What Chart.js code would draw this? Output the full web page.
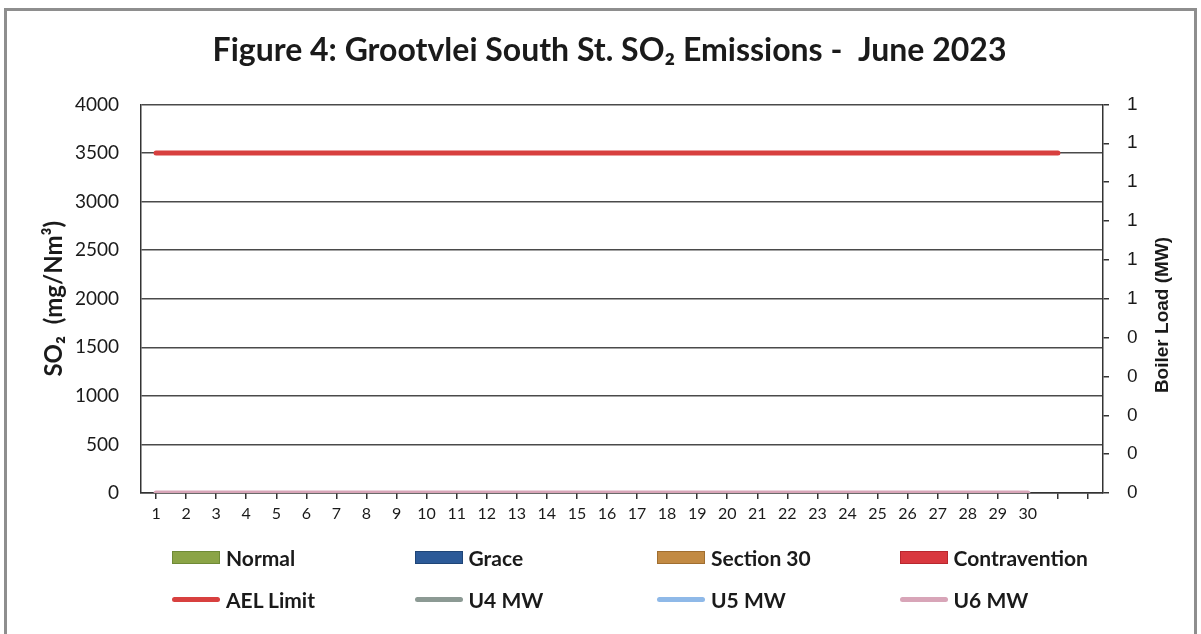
<!DOCTYPE html>
<html>
<head>
<meta charset="utf-8">
<script src="https://cdn.jsdelivr.net/npm/chart.js@4.4.1/dist/chart.umd.min.js"></script>
<style>
  html, body { margin: 0; padding: 0; background: #fff; }
  body { width: 1201px; height: 634px; position: relative; overflow: hidden; }
  .frame { position: absolute; left: 4px; top: 8px; width: 1193px; height: 630px; border: 3px solid #8e8e8e; box-sizing: border-box; }
  .wrap { position: absolute; left: 0; top: 0; width: 1201px; height: 634px; }
  .legend { position: absolute; left: 172px; top: 544px; width: 980px; font-family: Lato, "Open Sans", sans-serif; font-weight: bold; font-size: 21px; color: #1a1a1a; }
  .legend .item { position: absolute; display: flex; align-items: center; height: 26px; white-space: nowrap; }
  .legend .sw { display: inline-block; width: 48px; margin-right: 6px; box-sizing: border-box; }
</style>
</head>
<body>
<div class="frame"></div>
<div class="wrap"><canvas id="so2" width="1201" height="634"></canvas></div>
<div class="legend" id="legend"></div>
<script>
// categories: days of June (two empty slots at the end, as in the original sheet)
var days = ['1','2','3','4','5','6','7','8','9','10','11','12','13','14','15','16','17','18','19','20','21','22','23','24','25','26','27','28','29','30','',''];

// SO2 emissions per day by status (no readings shown this month)
var normal = [];
var grace = [];
var section30 = [];
var contravention = [];

// AEL limit (mg/Nm3)
var aelLimit = [3500,3500,3500,3500,3500,3500,3500,3500,3500,3500,3500,3500,3500,3500,3500,3500,3500,3500,3500,3500,3500,3500,3500,3500,3500,3500,3500,3500,3500,3500,3500];

// boiler loads (MW)
var u4MW = [];
var u5MW = [];
var u6MW = [0,0,0,0,0,0,0,0,0,0,0,0,0,0,0,0,0,0,0,0,0,0,0,0,0,0,0,0,0,0];

var ctx = document.getElementById('so2');
Chart.defaults.font.family = 'Lato';
Chart.defaults.color = '#1a1a1a';

// right axis title reads bottom-to-top like the Excel original
var rightTitle = {
    id: 'rightTitle',
    afterDraw: function (chart) {
        var c = chart.ctx;
        c.save();
        c.translate(1163, 315);
        c.rotate(-Math.PI / 2);
        c.font = 'bold 19px "Liberation Sans", Arial, sans-serif';
        c.fillStyle = '#1a1a1a';
        c.textAlign = 'center';
        c.textBaseline = 'middle';
        c.fillText('Boiler Load (MW)', 0, 0);
        c.restore();
    }
};

window.myChart = new Chart(ctx, {
    type: 'bar',
    data: {
        labels: days,
        datasets: [{
            label: 'Normal', data: normal, yAxisID: 'y',
            backgroundColor: '#8ba446', borderColor: '#6f8a36', borderWidth: 0
        }, {
            label: 'Grace', data: grace, yAxisID: 'y',
            backgroundColor: '#2c5a98', borderColor: '#1f4577', borderWidth: 0
        }, {
            label: 'Section 30', data: section30, yAxisID: 'y',
            backgroundColor: '#c28a43', borderColor: '#a06e30', borderWidth: 0
        }, {
            label: 'Contravention', data: contravention, yAxisID: 'y',
            backgroundColor: '#d9383f', borderColor: '#b8272e', borderWidth: 0
        }, {
            type: 'line', label: 'AEL Limit', data: aelLimit, yAxisID: 'y',
            borderColor: '#d8403f', backgroundColor: '#d8403f', borderWidth: 5,
            borderCapStyle: 'round', pointRadius: 0, order: -1
        }, {
            type: 'line', label: 'U4 MW', data: u4MW, yAxisID: 'y1',
            borderColor: '#8c9a94', backgroundColor: '#8c9a94', borderWidth: 5,
            pointRadius: 0
        }, {
            type: 'line', label: 'U5 MW', data: u5MW, yAxisID: 'y1',
            borderColor: '#8fb9e8', backgroundColor: '#8fb9e8', borderWidth: 5,
            pointRadius: 0
        }, {
            type: 'line', label: 'U6 MW', data: u6MW, yAxisID: 'y1',
            borderColor: '#d8a5b8', backgroundColor: '#d8a5b8', borderWidth: 5,
            borderCapStyle: 'round', pointRadius: 0, order: -2
        }]
    },
    options: {
        responsive: false,
        animation: false,
        devicePixelRatio: 1,
        layout: {
            padding: { left: 40, right: 22, top: 0, bottom: 111 }
        },
        scales: {
            x: {
                offset: true,
                grid: { offset: false, drawOnChartArea: false, tickLength: 6, color: '#333', lineWidth: 1.5 },
                border: { color: '#333', width: 1.5 },
                ticks: { autoSkip: false, maxRotation: 0, padding: 5, font: { size: 16 }, color: '#1a1a1a' },
                afterFit: function (scale) { scale.height = 30; }
            },
            y: {
                position: 'left',
                min: 0, max: 4000,
                ticks: {
                    stepSize: 500, padding: 22, font: { size: 19 }, color: '#1a1a1a',
                    callback: function (v) { return String(v); }
                },
                grid: { color: '#4a4a4a', lineWidth: 1.5, drawTicks: false },
                border: { color: '#333', width: 1.5 },
                title: {
                    display: true, text: 'SO\u2082  (mg/Nm\u00b3)',
                    font: { size: 24, weight: 'bold' }, color: '#1a1a1a', padding: 0
                },
                afterFit: function (scale) { scale.width = 101; }
            },
            y1: {
                position: 'right',
                min: 0, max: 1,
                ticks: {
                    stepSize: 0.1, padding: 18, color: '#1a1a1a',
                    font: { size: 19, family: '"Liberation Sans", Arial, sans-serif' },
                    callback: function (v) { return Math.round(Math.round(v * 10) / 10); }
                },
                grid: { drawOnChartArea: false, tickLength: 6, color: '#333', lineWidth: 1.5 },
                border: { color: '#333', width: 1.5 },
                afterFit: function (scale) { scale.width = 76; }
            }
        },
        plugins: {
            title: {
                display: true,
                text: 'Figure 4: Grootvlei South St. SO\u2082 Emissions -  June 2023',
                font: { size: 32, weight: 'bold' },
                color: '#1a1a1a',
                padding: { top: 31, bottom: 35 }
            },
            legend: { display: false },
            tooltip: { enabled: false }
        }
    },
    plugins: [rightTitle]
});

// legend in a 2 x 4 grid, built from the datasets
var legendBox = document.getElementById('legend');
myChart.data.datasets.forEach(function (ds, i) {
    var item = document.createElement('div');
    item.className = 'item';
    item.style.left = (i % 4) * 242.5 + 'px';
    item.style.top = Math.floor(i / 4) * 42 + 'px';
    var sw = document.createElement('span');
    sw.className = 'sw';
    if (ds.type === 'line') {
        sw.style.height = '5px';
        sw.style.borderRadius = '3px';
        sw.style.background = ds.borderColor;
    } else {
        sw.style.height = '13px';
        sw.style.background = ds.backgroundColor;
        sw.style.border = '1px solid ' + ds.borderColor;
    }
    item.appendChild(sw);
    item.appendChild(document.createTextNode(ds.label));
    legendBox.appendChild(item);
});
</script>
</body>
</html>
